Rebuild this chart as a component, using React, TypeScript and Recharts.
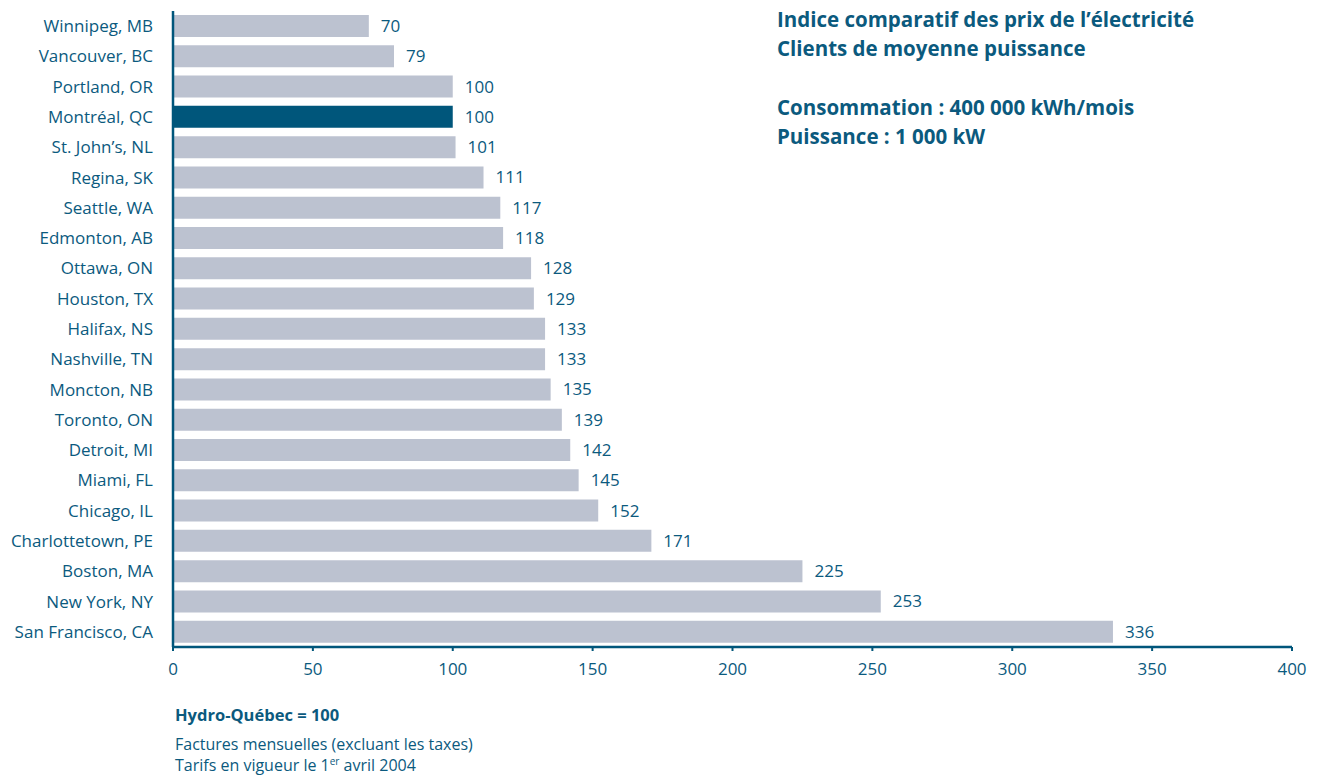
import React from "react";
import { BarChart, Bar, XAxis, YAxis, Cell, LabelList } from "recharts";

const cities = [
  "Winnipeg, MB", "Vancouver, BC", "Portland, OR", "Montréal, QC", "St. John’s, NL",
  "Regina, SK", "Seattle, WA", "Edmonton, AB", "Ottawa, ON", "Houston, TX",
  "Halifax, NS", "Nashville, TN", "Moncton, NB", "Toronto, ON", "Detroit, MI",
  "Miami, FL", "Chicago, IL", "Charlottetown, PE", "Boston, MA", "New York, NY",
  "San Francisco, CA",
];
const indexValues = [70, 79, 100, 100, 101, 111, 117, 118, 128, 129, 133, 133, 135, 139, 142, 145, 152, 171, 225, 253, 336];
const highlightCity = "Montréal, QC";
const xTicks = [0, 50, 100, 150, 200, 250, 300, 350, 400];
const titleLines = ["Indice comparatif des prix de l’électricité", "Clients de moyenne puissance"];
const subtitleLines = ["Consommation : 400 000 kWh/mois", "Puissance : 1 000 kW"];

const data = cities.map((city, i) => ({ city, value: indexValues[i] }));

const TEAL = "#0b5a7e";
const DARK = "#00567b";
const GREY = "#bcc2d0";
const FONT = "'Open Sans', 'Noto Sans', sans-serif";

export default function App() {
  return (
    <div style={{ position: "absolute", left: 0, top: 0, width: 1319, height: 777, background: "#fff", fontFamily: FONT }}>
      <BarChart
        width={1319}
        height={777}
        data={data}
        layout="vertical"
        margin={{ top: 11, right: 27, bottom: 100, left: 0 }}
        barCategoryGap={8}
      >
        <XAxis
          type="number"
          domain={[0, 400]}
          ticks={xTicks}
          tick={{ fill: TEAL, fontSize: 17, fontFamily: FONT }}
          axisLine={{ stroke: DARK, strokeWidth: 2.5 }}
          tickLine={{ stroke: DARK, strokeWidth: 2 }}
          tickSize={4}
          tickMargin={12}
          height={30}
        />
        <YAxis
          type="category"
          dataKey="city"
          width={173}
          tick={{ fill: TEAL, fontSize: 17, fontFamily: FONT }}
          axisLine={{ stroke: DARK, strokeWidth: 2.5 }}
          tickLine={false}
          tickSize={0}
          tickMargin={20}
          interval={0}
        />
        <Bar dataKey="value" isAnimationActive={false} barSize={22}>
          {data.map((d) => (
            <Cell key={d.city} fill={d.city === highlightCity ? DARK : GREY} />
          ))}
          <LabelList dataKey="value" position="right" offset={12} fill={TEAL} fontSize={17} fontFamily={FONT} />
        </Bar>
      </BarChart>
      <div style={{ position: "absolute", left: 777, top: 5, color: TEAL, fontWeight: 700, fontSize: 20.5, lineHeight: "29px" }}>
        {titleLines.map((t) => <div key={t}>{t}</div>)}
        <div style={{ height: 30 }} />
        {subtitleLines.map((t) => <div key={t}>{t}</div>)}
      </div>
      <div style={{ position: "absolute", left: 175, top: 703, color: TEAL, fontSize: 16 }}>
        <div style={{ fontWeight: 700, lineHeight: "24px", fontSize: 16.5 }}>Hydro-Québec = 100</div>
        <div style={{ height: 7 }} />
        <div style={{ lineHeight: "21px" }}>Factures mensuelles (excluant les taxes)</div>
        <div style={{ lineHeight: "21px" }}>
          Tarifs en vigueur le 1<sup style={{ fontSize: 10, verticalAlign: "6px", lineHeight: 0 }}>er</sup> avril 2004
        </div>
      </div>
    </div>
  );
}
